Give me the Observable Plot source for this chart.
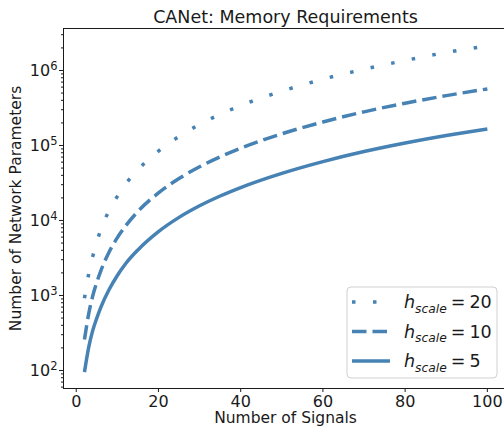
<!DOCTYPE html>
<html>
<head>
<meta charset="utf-8">
<script src="https://cdn.jsdelivr.net/npm/d3@7"></script>
<script src="https://cdn.jsdelivr.net/npm/@observablehq/plot@0.6"></script>
<style>
  html, body { margin: 0; padding: 0; background: #fff; }
  #chart { width: 504px; height: 430px; overflow: hidden; }
</style>
</head>
<body>
<div id="chart"></div>
<script>
// Number of signals on the x axis
const signals = [2, 3, 4, 5, 6, 8, 10, 12, 15, 20, 25, 30, 35, 40, 50, 60, 70, 80, 90, 100];

// Hidden-size scale factors, one curve each
const hScales = [20, 10, 5];

// Network parameter counts per h_scale
const params20 = [920, 1900, 3300, 5200, 7600, 13600, 21000, 30500, 47500, 84000, 132000, 191000, 260000, 340000, 530000, 765000, 1040000, 1360000, 1740000, 2130000];
const params10 = [258, 560, 980, 1500, 2150, 3800, 5900, 8450, 13200, 23300, 36300, 52000, 70500, 92000, 143000, 206000, 281000, 366000, 462000, 568000];
const params5  = [95, 200, 340, 500, 700, 1200, 1850, 2650, 4050, 7100, 11000, 15700, 21200, 27500, 42500, 61000, 83000, 108000, 136000, 166000];

// Axis ticks
const xTicks = [0, 20, 40, 60, 80, 100];
const yMajorTicks = [1e2, 1e3, 1e4, 1e5, 1e6];

const titleText = "CANet: Memory Requirements";
const xLabel = "Number of Signals";
const yLabel = "Number of Network Parameters";

const valuesByScale = {20: params20, 10: params10, 5: params5};
const rows = hScales.flatMap(h => signals.map((n, i) => ({h, n, v: valuesByScale[h][i]})));

const blue = "#4682b4";
const ink = "#1a1a1a";
const lineWidth = 3.5;
const dashByScale = {20: "3.5,17.5", 10: "14.5,6", 5: null};

const yDomain = [57.5, 3.63e6];
const minorTicks = d3.range(1, 7)
  .flatMap(k => d3.range(2, 10).map(m => m * 10 ** k))
  .filter(v => v >= yDomain[0] && v <= yDomain[1]);

const supDigits = {"0":"⁰","1":"¹","2":"²","3":"³","4":"⁴","5":"⁵","6":"⁶","7":"⁷","8":"⁸","9":"⁹"};
const plainDigits = Object.fromEntries(Object.entries(supDigits).map(([k, v]) => [v, k]));
const powerOfTen = d => "10" + String(Math.round(Math.log10(d))).split("").map(c => supDigits[c]).join("");

const plot = Plot.plot({
  width: 504,
  height: 430,
  marginLeft: 63,
  marginRight: -3,
  marginTop: 28,
  marginBottom: 42,
  style: {fontFamily: "'DejaVu Sans', sans-serif", fontSize: "16px", color: ink, background: "#fff"},
  x: {domain: [-3.1, 104.9]},
  y: {type: "log", domain: yDomain},
  marks: [
    Plot.axisX({ticks: xTicks, tickSize: 4, tickPadding: 3, label: null, fontSize: 16}),
    Plot.axisY({ticks: yMajorTicks, tickSize: 4, tickPadding: 2, tickFormat: powerOfTen, label: null, fontSize: 16}),
    Plot.axisY({ticks: minorTicks, tickSize: 2, tickFormat: () => "", label: null}),
    ...hScales.map(h => Plot.line(rows.filter(r => r.h === h), {
      x: "n", y: "v",
      stroke: blue, strokeWidth: lineWidth,
      strokeDasharray: dashByScale[h],
      strokeLinecap: "butt",
      curve: "monotone-x"
    })),
    Plot.frame({stroke: ink, strokeWidth: 1}),
    Plot.text([titleText], {text: d => d, frameAnchor: "top", lineAnchor: "middle", textAnchor: "middle", dy: -11.5, fontSize: 17.5}),
    Plot.text([xLabel], {text: d => d, frameAnchor: "bottom", lineAnchor: "middle", textAnchor: "middle", dy: 30, fontSize: 15.5}),
    Plot.text([yLabel], {text: d => d, frameAnchor: "left", lineAnchor: "middle", textAnchor: "middle", dx: -47, rotate: -90, fontSize: 15.5})
  ]
});

document.getElementById("chart").append(plot);

// Power-of-ten tick labels: raised, smaller exponent
d3.select(plot).selectAll('g[aria-label="y-axis tick label"] text').each(function () {
  const s = this.textContent;
  if (!s || !s.startsWith("10")) return;
  const exp = s.slice(2).split("").map(c => plainDigits[c] ?? c).join("");
  const t = d3.select(this);
  t.text(null);
  t.append("tspan").text("10");
  t.append("tspan").attr("font-size", "11.5px").attr("dy", "-0.45em").text(exp);
});

// Legend in the lower-right corner of the plotting area
const xRange = plot.scale("x").range;
const yRange = plot.scale("y").range;
const legendW = 150, legendH = 91;
const legendX = Math.max(...xRange) - 10 - legendW;
const legendY = Math.max(...yRange) - 10 - legendH;
const legend = d3.select(plot).append("g")
  .attr("transform", `translate(${legendX},${legendY})`)
  .attr("text-anchor", "start");
legend.append("rect")
  .attr("width", legendW).attr("height", legendH)
  .attr("rx", 4)
  .attr("fill", "#fff").attr("fill-opacity", 0.8)
  .attr("stroke", "#d0d0d0").attr("stroke-width", 1);

hScales.forEach((h, i) => {
  const cy = 15 + i * 29.5;
  legend.append("line")
    .attr("x1", 5).attr("x2", 43).attr("y1", cy).attr("y2", cy)
    .attr("stroke", blue).attr("stroke-width", lineWidth)
    .attr("stroke-dasharray", dashByScale[h])
    .attr("stroke-linecap", "butt");
  const t = legend.append("text")
    .attr("x", 57).attr("y", cy + 6)
    .attr("text-anchor", "start")
    .attr("font-family", "'DejaVu Sans', sans-serif")
    .attr("font-size", 17.5)
    .attr("fill", ink);
  t.append("tspan").attr("font-style", "italic").text("h");
  t.append("tspan").attr("font-style", "italic").attr("font-size", 12.3).attr("dy", 4.5).text("scale");
  t.append("tspan").attr("dy", -4.5).attr("dx", 4).text("=");
  t.append("tspan").attr("dx", 4).text(String(h));
});
</script>
</body>
</html>
